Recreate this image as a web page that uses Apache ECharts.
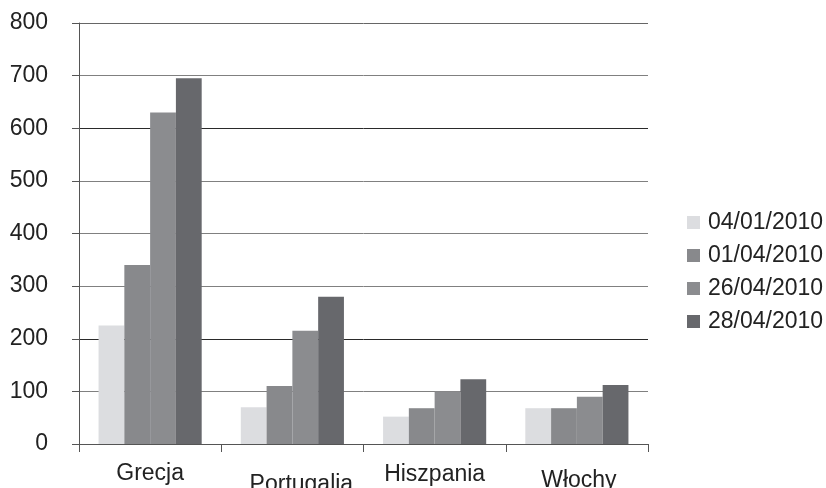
<!DOCTYPE html>
<html>
<head>
<meta charset="utf-8">
<script src="https://cdn.jsdelivr.net/npm/echarts@6/dist/echarts.min.js"></script>
<style>
html,body{margin:0;padding:0;background:#fff;}
#chart{width:826px;height:488px;}
</style>
</head>
<body>
<div id="chart"></div>
<script>
// ---- data ----
var categories = ['Grecja', 'Portugalia', 'Hiszpania', 'Włochy'];
var seriesNames = ['04/01/2010', '01/04/2010', '26/04/2010', '28/04/2010'];
var s_04_01_2010 = [225, 70, 52, 68];
var s_01_04_2010 = [340, 110, 68, 68];
var s_26_04_2010 = [630, 215, 100, 90];
var s_28_04_2010 = [695, 280, 123, 112];
var yTicks = [0, 100, 200, 300, 400, 500, 600, 700, 800];

// ---- styling (kept separate from data) ----
var colors = ['#dcdde0', '#88898c', '#8b8c8f', '#67686c'];
var labelPadding = {
  'Grecja': [0, 0, 0, 0],
  'Portugalia': [11, 0, 0, 18],
  'Hiszpania': [1, 0, 0, 0],
  'Włochy': [7, 0, 0, 4]
};
var gridColors = ['#555', '#808080', '#2a2a2a', '#808080', '#808080', '#808080', '#2a2a2a', '#808080', '#666'];

var allValues = [s_04_01_2010, s_01_04_2010, s_26_04_2010, s_28_04_2010];
var chart = echarts.init(document.getElementById('chart'), null, {renderer: 'canvas'});
var font = 'Liberation Sans, Arial, sans-serif';

chart.setOption({
  animation: false,
  backgroundColor: '#fff',
  grid: {left: 79, right: 178, top: 23, bottom: 44, containLabel: false, outerBoundsMode: 'none'},
  legend: {
    orient: 'vertical',
    left: 682,
    top: 206,
    icon: 'rect',
    itemWidth: 13,
    itemHeight: 13,
    itemGap: 10,
    textStyle: {fontFamily: font, fontSize: 23, color: '#222', lineHeight: 23, padding: [0, 0, 0, 3]},
    data: seriesNames
  },
  xAxis: {
    type: 'category',
    data: categories.map(function (c) {
      return {value: c, textStyle: {padding: labelPadding[c]}};
    }),
    boundaryGap: true,
    axisLine: {show: true, lineStyle: {color: '#555', width: 1}},
    axisTick: {show: true, length: 8, alignWithLabel: false, lineStyle: {color: '#555'}},
    axisLabel: {fontFamily: font, fontSize: 23, color: '#222', margin: 18, interval: 0, hideOverlap: false},
    splitLine: {show: false}
  },
  yAxis: {
    type: 'value',
    min: yTicks[0],
    max: yTicks[yTicks.length - 1],
    interval: yTicks[1] - yTicks[0],
    axisLine: {show: true, lineStyle: {color: '#555', width: 1}},
    axisTick: {show: true, length: 7, lineStyle: {color: '#555'}},
    axisLabel: {fontFamily: font, fontSize: 23, color: '#222', margin: 31},
    splitLine: {show: true, lineStyle: {color: gridColors, width: 1}}
  },
  series: seriesNames.map(function (name, i) {
    return {
      name: name,
      type: 'bar',
      data: allValues[i],
      barGap: '0%',
      barCategoryGap: '27.5%',
      itemStyle: {color: colors[i]}
    };
  })
});
</script>
</body>
</html>
